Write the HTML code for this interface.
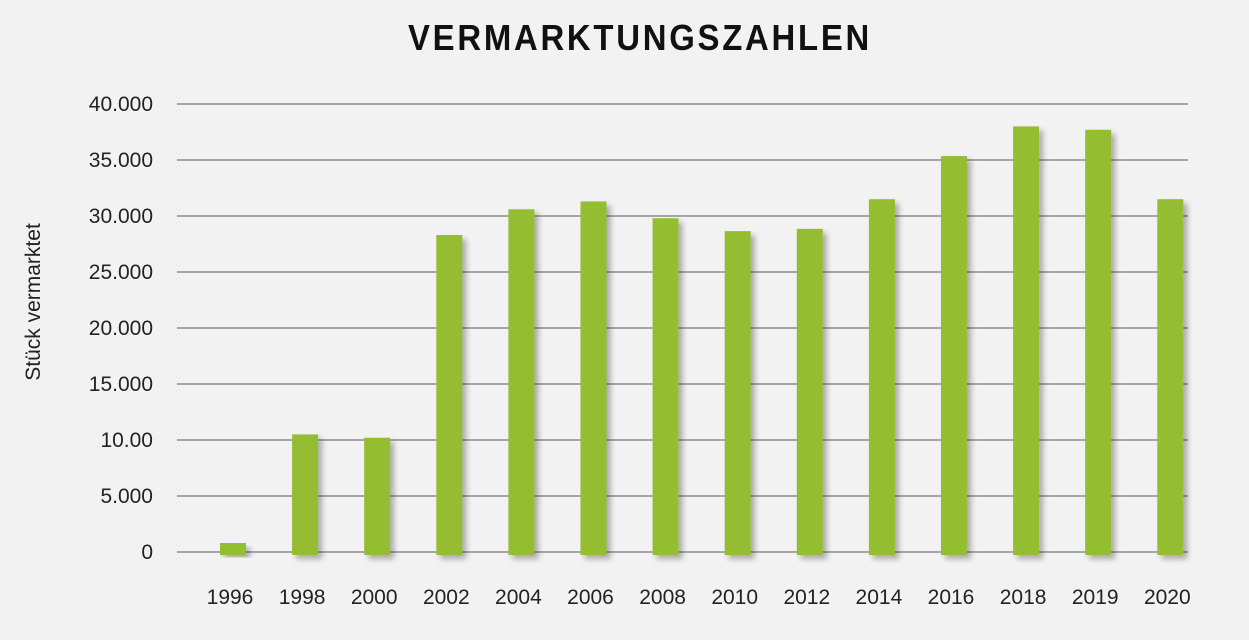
<!DOCTYPE html>
<html><head><meta charset="utf-8"><style>
html,body{margin:0;padding:0;background:#f2f2f2;}
svg{display:block;font-family:"Liberation Sans",sans-serif;}
</style></head><body>
<svg id="chart" width="1249" height="640" viewBox="0 0 1249 640">
<defs><filter id="sh" x="-30%" y="-10%" width="180%" height="130%"><feGaussianBlur in="SourceAlpha" stdDeviation="3"/><feOffset dx="4" dy="4"/><feComponentTransfer><feFuncA type="linear" slope="0.3"/></feComponentTransfer><feMerge><feMergeNode/><feMergeNode in="SourceGraphic"/></feMerge></filter></defs>
<text x="640" y="50" text-anchor="middle" font-size="36" font-weight="bold" letter-spacing="3" fill="#111" textLength="464" lengthAdjust="spacingAndGlyphs">VERMARKTUNGSZAHLEN</text>
<text transform="translate(40,302) rotate(-90)" text-anchor="middle" font-size="21" fill="#222">Stück vermarktet</text>
<g id="grid"></g><g id="bars"></g><g id="xl"></g>
</svg>
<script>
const categories=["1996","1998","2000","2002","2004","2006","2008","2010","2012","2014","2016","2018","2019","2020"];
const values=[800,10500,10200,28300,30600,31300,29800,28650,28850,31500,35350,38000,37700,31500];
const yTicks=[0,5000,10000,15000,20000,25000,30000,35000,40000];
const yTickLabels=["0","5.000","10.00","15.000","20.000","25.000","30.000","35.000","40.000"];
const NS="http://www.w3.org/2000/svg";
const y=v=>552-v*448/40000;
const x=i=>233+i*72.1;
const grid=document.getElementById('grid'),bars=document.getElementById('bars'),xl=document.getElementById('xl');
yTicks.forEach((t,i)=>{
 const l=document.createElementNS(NS,'line');
 l.setAttribute('x1',177);l.setAttribute('x2',1188);l.setAttribute('y1',y(t));l.setAttribute('y2',y(t));
 l.setAttribute('stroke','#7a7a7a');l.setAttribute('stroke-width','1.3');
 
 
 grid.appendChild(l);
 const tx=document.createElementNS(NS,'text');
 tx.setAttribute('x',153);tx.setAttribute('y',y(t)+7);tx.setAttribute('text-anchor','end');tx.setAttribute('font-size','21');tx.setAttribute('fill','#222');
 tx.textContent=yTickLabels[i];
 
 
 grid.appendChild(tx);
});
categories.forEach((c,i)=>{
 const r=document.createElementNS(NS,'rect');
 r.setAttribute('x',x(i)-13);r.setAttribute('width',26);r.setAttribute('y',y(values[i]));r.setAttribute('height',555-y(values[i]));
 r.setAttribute('fill','#95bd32');r.setAttribute('filter','url(#sh)');
 
 
 bars.appendChild(r);
 const t=document.createElementNS(NS,'text');
 t.setAttribute('x',x(i)-3);t.setAttribute('y',604);t.setAttribute('text-anchor','middle');t.setAttribute('font-size','21');t.setAttribute('fill','#222');
 t.textContent=c;
 
 
 xl.appendChild(t);
});
</script>
</body></html>
